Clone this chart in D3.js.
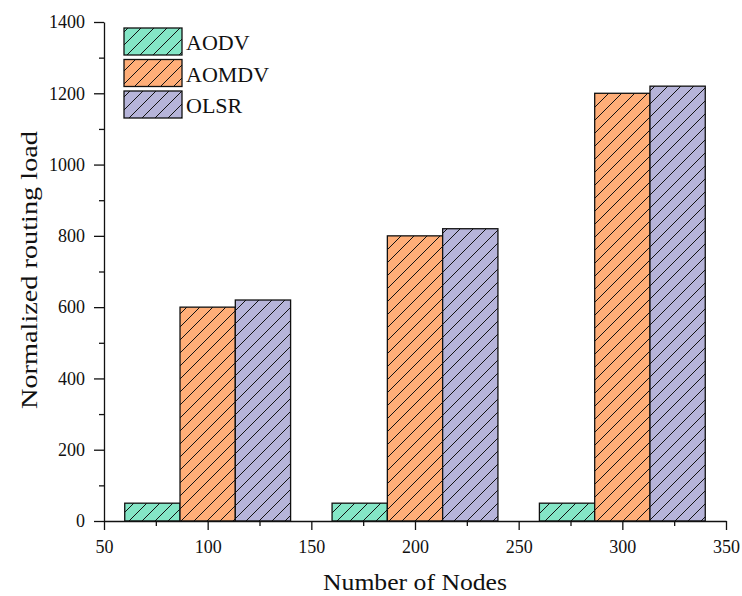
<!DOCTYPE html>
<html><head><meta charset="utf-8">
<script src="https://cdn.jsdelivr.net/npm/d3@7"></script>
<style>body{margin:0;background:#fff}svg{display:block}</style>
</head><body>
<script>
const nodes = [100, 200, 300];
const seriesNames = ["AODV", "AOMDV", "OLSR"];
const aodv = [50, 50, 50];
const aomdv = [600, 800, 1200];
const olsr = [620, 820, 1220];
const colors = ["#84e6c6", "#ffae78", "#b6b4d9"];
const xTicks = [50, 100, 150, 200, 250, 300, 350];
const yTicks = [0, 200, 400, 600, 800, 1000, 1200, 1400];

const W = 742, H = 596;
const svg = d3.select("body").append("svg").attr("width", W).attr("height", H);
const font = "'Liberation Serif', 'Times New Roman', serif";

const x = d3.scaleLinear().domain([50, 350]).range([104, 726]);
const y = d3.scaleLinear().domain([0, 1400]).range([521, 22]);

const defs = svg.append("defs");
colors.forEach((c, i) => {
  const p = defs.append("pattern").attr("id", "hatch" + i)
    .attr("patternUnits", "userSpaceOnUse").attr("width", 13).attr("height", 13);
  p.append("rect").attr("width", 13).attr("height", 13).attr("fill", c);
  p.append("path").attr("d", "M-1,1 l2,-2 M0,13 l13,-13 M12,14 l2,-2")
    .attr("stroke", "#111").attr("stroke-width", 1);
});

const all = [aodv, aomdv, olsr];
const groupW = 80, barW = groupW / 3;
all.forEach((vals, s) => {
  svg.append("g").selectAll("rect").data(vals).join("rect")
    .attr("x", (d, i) => x(nodes[i] - groupW / 2 + s * barW))
    .attr("width", (d, i) => x(nodes[i] - groupW / 2 + (s + 1) * barW) - x(nodes[i] - groupW / 2 + s * barW))
    .attr("y", d => y(d))
    .attr("height", d => y(0) - y(d))
    .attr("fill", `url(#hatch${s})`)
    .attr("stroke", "#111").attr("stroke-width", 1.3);
});

// axes
svg.append("g").attr("transform", `translate(0,${y(0)})`)
  .call(d3.axisBottom(x).tickValues(xTicks).tickFormat(d3.format("d")).tickSize(9).tickSizeOuter(0).tickPadding(10));
svg.append("g").attr("transform", `translate(0,${y(0)})`)
  .call(d3.axisBottom(x).tickValues(d3.range(75, 350, 50)).tickSize(5).tickFormat("").tickSizeOuter(0))
  .select(".domain").remove();
svg.append("g").attr("transform", `translate(${x(50)},0)`)
  .call(d3.axisLeft(y).tickValues(yTicks).tickFormat(d3.format("d")).tickSize(10).tickSizeOuter(0).tickPadding(9));
svg.append("g").attr("transform", `translate(${x(50)},0)`)
  .call(d3.axisLeft(y).tickValues(d3.range(100, 1400, 200)).tickSize(5).tickFormat("").tickSizeOuter(0))
  .select(".domain").remove();

svg.selectAll(".domain, .tick line").attr("stroke", "#111").attr("stroke-width", 1.3);
svg.selectAll(".tick text").style("font-family", font).style("font-size", "18px").attr("fill", "#111");

svg.append("text").attr("x", 415).attr("y", 590).attr("text-anchor", "middle")
  .style("font-family", font).style("font-size", "22.5px").attr("fill", "#111")
  .attr("textLength", 184).attr("lengthAdjust", "spacingAndGlyphs").text("Number of Nodes");
svg.append("text").attr("transform", "translate(37,270) rotate(-90)").attr("text-anchor", "middle")
  .style("font-family", font).style("font-size", "23px").attr("fill", "#111")
  .attr("textLength", 278).attr("lengthAdjust", "spacingAndGlyphs").text("Normalized routing load");

// legend
const leg = svg.append("g");
seriesNames.forEach((n, i) => {
  const yy = 28 + i * 31.5;
  leg.append("rect").attr("x", 124).attr("y", yy).attr("width", 58).attr("height", 27)
    .attr("fill", `url(#hatch${i})`).attr("stroke", "#111").attr("stroke-width", 1.3);
  leg.append("text").attr("x", 186).attr("y", yy + 22).style("font-family", font)
    .style("font-size", "22px").attr("fill", "#111").text(n);
});
</script>
</body></html>
